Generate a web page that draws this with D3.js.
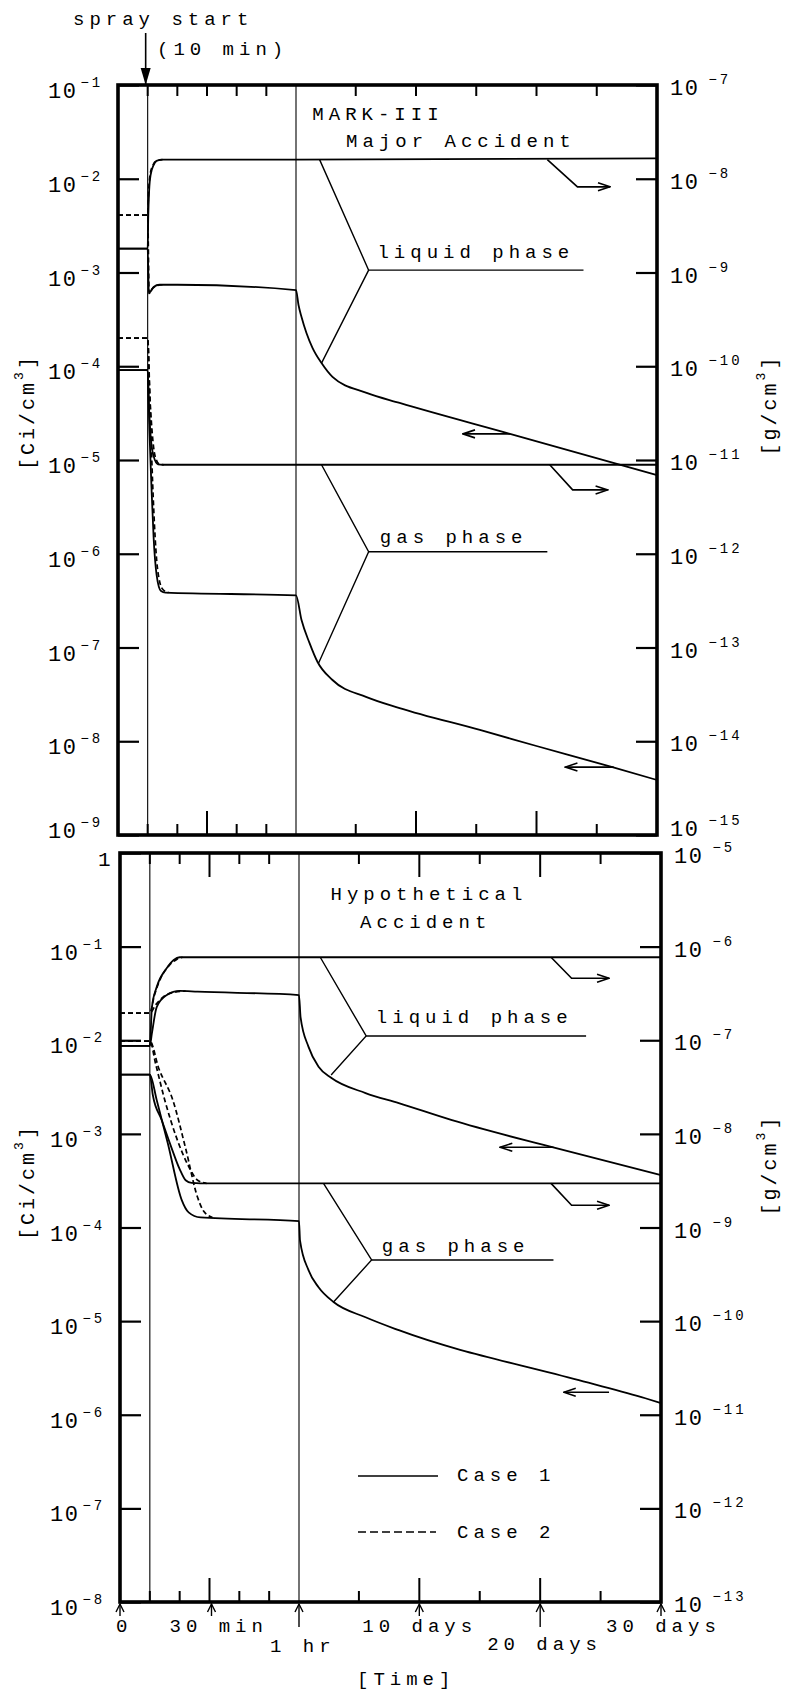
<!DOCTYPE html>
<html>
<head>
<meta charset="utf-8">
<script src="https://cdn.jsdelivr.net/npm/d3@7/dist/d3.min.js"></script>
<style>
  body { margin: 0; background: #fff; }
  svg text { font-family: "Liberation Mono", "DejaVu Sans Mono", monospace; fill: #000; }
</style>
</head>
<body>
<script>
const WIDTH = 787;
const HEIGHT = 1695;

// time is in minutes: 0-60 min is stretched, then days up to 30 (1 day = 1440 min)
const DAY = 1440;

const MIN_TICKS = [10, 20, 30, 40, 50];
const DAY_TICKS = [5, 10, 15, 20, 25];
const LONG_TICKS = [30, 14400, 28800];

const X_LABEL_TIMES = [0, 30, 60, 14400, 28800, 43200];
const X_LABEL_TEXT = ["0", "30 min", "1 hr", "10 days", "20 days", "30 days"];

const TOP_LEFT_TICKS = [1e-1, 1e-2, 1e-3, 1e-4, 1e-5, 1e-6, 1e-7, 1e-8, 1e-9];
const TOP_RIGHT_TICKS = [1e-7, 1e-8, 1e-9, 1e-10, 1e-11, 1e-12, 1e-13, 1e-14, 1e-15];
const BOT_LEFT_TICKS = [1, 1e-1, 1e-2, 1e-3, 1e-4, 1e-5, 1e-6, 1e-7, 1e-8];
const BOT_RIGHT_TICKS = [1e-5, 1e-6, 1e-7, 1e-8, 1e-9, 1e-10, 1e-11, 1e-12, 1e-13];

// ---- MARK-III major accident, [time min, value on left scale] ----
const M3_LIQ_MASS_1 = [[0,1.8e-3],[10,1.8e-3],[10.2,4e-3],[10.5,7.5e-3],[11,1.1e-2],[12,1.4e-2],[13,1.55e-2],[15,1.6e-2],[60,1.6e-2],[43200,1.65e-2]];
const M3_LIQ_MASS_2 = [[0,4.1e-3],[10,4.1e-3],[10.3,7e-3],[10.8,1.1e-2],[11.8,1.4e-2],[13,1.55e-2],[15,1.6e-2]];
const M3_LIQ_ACT_1 = [[0,1.8e-3],[10,1.8e-3],[10.4,6e-4],[11,6.3e-4],[12,7e-4],[14,7.4e-4],[20,7.4e-4],[60,6.5e-4],
  [360,4.5e-4],[720,3.35e-4],[1310,2.26e-4],[2030,1.57e-4],[3110,1.08e-4],[4420,7.7e-5],[8496,5.2e-5],[12442,4.06e-5],[25632,1.9e-5],[43200,6.9e-6]];
const M3_LIQ_ACT_2 = [[0,4.1e-3],[10,4.1e-3],[10.5,6e-4],[11.2,6.5e-4],[12.5,7.1e-4],[15,7.4e-4]];
const M3_GAS_MASS_1 = [[0,9.1e-5],[10,9.1e-5],[10.4,4e-5],[11,1.8e-5],[12,1.1e-5],[13.5,9e-6],[15,8.9e-6],[43200,8.9e-6]];
const M3_GAS_MASS_2 = [[0,2e-4],[10,2e-4],[10.6,6e-5],[11.5,2e-5],[12.5,1.1e-5],[14,9e-6],[15.5,8.9e-6]];
const M3_GAS_ACT_1 = [[0,9.1e-5],[10,9.1e-5],[10.6,2e-5],[11.3,5e-6],[12,1.5e-6],[13,6e-7],[14.5,4e-7],[16,3.85e-7],[60,3.6e-7],
  [720,1.96e-7],[1670,1.12e-7],[2635,7e-8],[4420,4.5e-8],[8496,2.96e-8],[12442,2.26e-8],[22032,1.32e-8],[28800,8.9e-9],[37872,5.3e-9],[43200,3.86e-9]];
const M3_GAS_ACT_2 = [[0,2e-4],[10,2e-4],[10.8,4e-5],[11.5,8e-6],[12.3,2e-6],[13.3,7e-7],[15,4.2e-7],[17,3.85e-7]];

// ---- hypothetical accident ----
const HY_LIQ_MASS_1 = [[0,8.7e-3],[10,8.7e-3],[10.7,2.26e-2],[12.3,3.7e-2],[15.7,5.9e-2],[18,7.2e-2],[20,7.7e-2],[43200,7.7e-2]];
const HY_LIQ_MASS_2 = [[0,1.95e-2],[10,1.95e-2],[11.5,3e-2],[13.5,4.5e-2],[16.5,6.3e-2],[19,7.3e-2],[21,7.7e-2]];
const HY_LIQ_ACT_1 = [[0,8.7e-3],[10,8.7e-3],[10.7,1.19e-2],[12.3,2.26e-2],[15.7,3.04e-2],[20,3.36e-2],[26,3.3e-2],[60,3.04e-2],
  [245,1.77e-2],[1195,8.5e-3],[2390,5.2e-3],[3931,3.95e-3],[7992,2.73e-3],[11952,2.13e-3],[18288,1.4e-3],[30240,7.2e-4],[43200,3.63e-4]];
const HY_LIQ_ACT_2 = [[0,1.95e-2],[10,1.95e-2],[12,2.4e-2],[14.5,2.9e-2],[18,3.25e-2],[22,3.35e-2]];
const HY_GAS_MASS_1 = [[0,4.3e-3],[10,4.3e-3],[11,2.6e-3],[14,1.4e-3],[17,7.5e-4],[20,4.2e-4],[22,3.2e-4],[24,3.0e-4],[30,2.96e-4],[43200,2.96e-4]];
const HY_GAS_MASS_2 = [[0,9.8e-3],[10,9.8e-3],[12,5.5e-3],[15,2.3e-3],[19,9e-4],[23,4.5e-4],[26,3.2e-4],[29,2.96e-4]];
const HY_GAS_ACT_1 = [[0,4.3e-3],[10,4.3e-3],[12.3,2.3e-3],[16,8e-4],[20.7,1.96e-4],[23,1.45e-4],[27,1.28e-4],[60,1.17e-4],
  [180,7.3e-5],[1195,3.5e-5],[2390,2.3e-5],[4176,1.6e-5],[7992,1.1e-5],[11952,8e-6],[33408,2.34e-6],[41328,1.5e-6],[43200,1.33e-6]];
const HY_GAS_ACT_2 = [[0,9.8e-3],[10,9.8e-3],[13,5e-3],[17.7,2.3e-3],[22,7e-4],[26,2.1e-4],[28,1.5e-4],[31,1.28e-4]];

// annotation anchors [time min, value on left scale]
const M3_LIQ_LEADER = [[2880,1.6e-2],[8740,1.06e-3],[3110,1.08e-4]];
const M3_GAS_LEADER = [[3110,8.9e-6],[8740,1.05e-6],[2750,6.8e-8]];
const M3_LEADER_END = [34416, 30096];
const M3_TEXT = [["MARK-III",2016,4.2e-2],["Major Accident",6048,2.18e-2],["liquid phase",9792,1.43e-3],["gas phase",10080,1.3e-6]];
const M3_ARROWS = [
  [[30096,1.6e-2],[33696,8.2e-3],[37584,8.2e-3]],
  [[30384,8.9e-6],[33120,4.8e-6],[37296,4.8e-6]],
  [[25632,1.9e-5],[20016,1.9e-5]],
  [[38016,5.3e-9],[32256,5.3e-9]]
];
const HY_LIQ_LEADER = [[2592,7.7e-2],[8064,1.11e-2],[3888,4.25e-3]];
const HY_GAS_LEADER = [[2981,2.96e-4],[8712,4.5e-5],[4176,1.6e-5]];
const HY_LEADER_END = [34272, 30384];
const HY_TEXT = [["Hypothetical",3816,0.315],["Accident",7344,0.158],["liquid phase",9216,1.53e-2],["gas phase",9936,5.5e-5]];
const HY_ARROWS = [
  [[30096,7.7e-2],[32544,4.6e-2],[37008,4.6e-2]],
  [[30384,7.2e-4],[24048,7.2e-4]],
  [[30096,2.96e-4],[32544,1.73e-4],[37008,1.73e-4]],
  [[37008,1.74e-6],[31608,1.74e-6]]
];

const PANELS = [
  {box: {left: 118, right: 657, top: 85, bottom: 835, hour: 296},
   yDomain: [1e-1, 1e-9], y2Domain: [1e-7, 1e-15], yTicks: TOP_LEFT_TICKS, y2Ticks: TOP_RIGHT_TICKS,
   solid: [M3_LIQ_MASS_1, M3_LIQ_ACT_1, M3_GAS_MASS_1, M3_GAS_ACT_1],
   dashed: [M3_LIQ_MASS_2, M3_LIQ_ACT_2, M3_GAS_MASS_2, M3_GAS_ACT_2],
   leaders: [M3_LIQ_LEADER, M3_GAS_LEADER], leaderEnd: M3_LEADER_END, texts: M3_TEXT, arrows: M3_ARROWS,
   topLong: false, last: true},
  {box: {left: 120, right: 661, top: 853, bottom: 1602, hour: 299},
   yDomain: [1, 1e-8], y2Domain: [1e-5, 1e-13], yTicks: BOT_LEFT_TICKS, y2Ticks: BOT_RIGHT_TICKS,
   solid: [HY_LIQ_MASS_1, HY_LIQ_ACT_1, HY_GAS_MASS_1, HY_GAS_ACT_1],
   dashed: [HY_LIQ_MASS_2, HY_LIQ_ACT_2, HY_GAS_MASS_2, HY_GAS_ACT_2],
   leaders: [HY_LIQ_LEADER, HY_GAS_LEADER], leaderEnd: HY_LEADER_END, texts: HY_TEXT, arrows: HY_ARROWS,
   topLong: true, last: false}
];

const svg = d3.select("body").append("svg")
  .attr("width", WIDTH).attr("height", HEIGHT)
  .style("background", "#fff");

const defs = svg.append("defs");
defs.append("marker").attr("id", "head")
  .attr("viewBox", "0 0 14 10").attr("refX", 13).attr("refY", 5)
  .attr("markerWidth", 14).attr("markerHeight", 10)
  .attr("markerUnits", "userSpaceOnUse").attr("orient", "auto")
  .append("path").attr("d", "M1,1 L13,5 L1,9")
  .attr("fill", "none").attr("stroke", "#000").attr("stroke-width", 1.6);

const label = (sel, size) => sel.attr("font-size", size || 19).attr("letter-spacing", 5);

// "10" with raised negative exponent
const powText = (sel, v, gap) => {
  const e = Math.round(Math.log10(v));
  if (e === 0) { sel.attr("font-size", 21).text("1"); return; }
  sel.append("tspan").attr("font-size", 22).attr("letter-spacing", 1.5).text("10");
  sel.append("tspan").attr("font-size", 14).attr("dx", gap).attr("dy", -11)
     .attr("letter-spacing", 3).text("\u2212" + (-e));
};

const drawPanel = (p) => {
  const b = p.box;
  const g = svg.append("g");
  const x = d3.scaleLinear().domain([0, 60, 30 * DAY]).range([b.left, b.hour, b.right]);
  const y = d3.scaleLog().domain(p.yDomain).range([b.top, b.bottom]);
  const y2 = d3.scaleLog().domain(p.y2Domain).range([b.top, b.bottom]);

  // thin guides at spray start and at 1 hr
  g.selectAll(".guide").data([10, 60]).enter().append("line")
    .attr("x1", d => x(d)).attr("x2", d => x(d))
    .attr("y1", b.top).attr("y2", b.bottom)
    .attr("stroke", "#000").attr("stroke-width", 1.1);

  // value axes, ticks pointing inward
  const yAxis = g.append("g").attr("transform", "translate(" + b.left + ",0)")
    .call(d3.axisLeft(y).tickValues(p.yTicks).tickSize(-21).tickFormat(""));
  const y2Axis = g.append("g").attr("transform", "translate(" + b.right + ",0)")
    .call(d3.axisRight(y2).tickValues(p.y2Ticks).tickSize(-21).tickFormat(""));
  [yAxis, y2Axis].forEach(a => {
    a.select(".domain").remove();
    a.selectAll("line").attr("stroke-width", 2.2);
  });

  // time ticks on both edges
  const allTicks = MIN_TICKS.concat(DAY_TICKS.map(d => d * DAY));
  const tickLen = (d, edge) => LONG_TICKS.includes(d) && (edge === "bottom" || p.topLong) ? 24 : 11;
  ["top", "bottom"].forEach(edge => {
    const yy = edge === "top" ? b.top : b.bottom;
    const dir = edge === "top" ? 1 : -1;
    g.selectAll(".xt-" + edge).data(allTicks).enter().append("line")
      .attr("x1", d => x(d)).attr("x2", d => x(d))
      .attr("y1", yy).attr("y2", d => yy + dir * tickLen(d, edge))
      .attr("stroke", "#000").attr("stroke-width", 2);
  });

  // tick labels
  g.selectAll(".ylab").data(p.yTicks).enter().append("text")
    .attr("x", d => Math.round(Math.log10(d)) === 0 ? b.left - 22 : b.left - 70)
    .attr("y", d => y(d) + (p.last && d === p.yTicks[p.yTicks.length - 1] ? 3 : 13))
    .each(function (d) { powText(d3.select(this), d, 3); });
  g.selectAll(".y2lab").data(p.y2Ticks).enter().append("text")
    .attr("x", b.right + 13)
    .attr("y", d => y2(d) + (p.last && d === p.y2Ticks[p.y2Ticks.length - 1] ? 1 : 10))
    .each(function (d) { powText(d3.select(this), d, 9); });

  // curves
  const line = d3.line().x(d => x(d[0])).y(d => y(d[1])).curve(d3.curveMonotoneX);
  g.selectAll(".case2").data(p.dashed).enter().append("path")
    .attr("d", line).attr("fill", "none").attr("stroke", "#000")
    .attr("stroke-width", 1.7).attr("stroke-dasharray", "5,3");
  g.selectAll(".case1").data(p.solid).enter().append("path")
    .attr("d", line).attr("fill", "none").attr("stroke", "#000")
    .attr("stroke-width", 1.8);

  // phase leaders
  const straight = d3.line().x(d => x(d[0])).y(d => y(d[1]));
  p.leaders.forEach((l, i) => {
    g.append("path").attr("d", straight(l)).attr("fill", "none")
      .attr("stroke", "#000").attr("stroke-width", 1.4);
    g.append("line")
      .attr("x1", x(l[1][0])).attr("x2", x(p.leaderEnd[i]))
      .attr("y1", y(l[1][1])).attr("y2", y(l[1][1]))
      .attr("stroke", "#000").attr("stroke-width", 1.4);
  });

  // axis-reference arrows
  p.arrows.forEach(a => {
    g.append("path").attr("d", straight(a)).attr("fill", "none")
      .attr("stroke", "#000").attr("stroke-width", 1.6)
      .attr("marker-end", "url(#head)");
  });

  g.selectAll(".note").data(p.texts).enter().append("text")
    .attr("x", d => x(d[1])).attr("y", d => y(d[2]))
    .call(label).text(d => d[0]);

  // frame
  g.append("rect")
    .attr("x", b.left).attr("y", b.top)
    .attr("width", b.right - b.left).attr("height", b.bottom - b.top)
    .attr("fill", "none").attr("stroke", "#000").attr("stroke-width", 3.6);

  return {x, y};
};

const [topP, botP] = PANELS.map(drawPanel);

// spray start marker
const sx = topP.x(10);
svg.append("text").attr("x", 73).attr("y", 25).call(label).text("spray start");
svg.append("text").attr("x", 157).attr("y", 55).call(label).text("(10 min)");
svg.append("line").attr("x1", sx - 2).attr("x2", sx - 2).attr("y1", 33).attr("y2", 84)
  .attr("stroke", "#000").attr("stroke-width", 1.6);
svg.append("path")
  .attr("d", "M" + (sx - 7) + ",68 L" + (sx - 2) + ",85 L" + (sx + 3) + ",68 Z")
  .attr("fill", "#000");

// unit labels
const unitLabel = (cx, cy, main) => {
  const t = svg.append("text")
    .attr("transform", "translate(" + cx + "," + cy + ") rotate(-90)")
    .attr("text-anchor", "middle").attr("dominant-baseline", "central")
    .attr("font-size", 20).attr("letter-spacing", 3);
  t.append("tspan").text(main);
  t.append("tspan").attr("font-size", 13).attr("dy", -9).text("3");
  t.append("tspan").attr("dy", 9).text("]");
};
unitLabel(28, 412, "[Ci/cm");
unitLabel(28, 1182, "[Ci/cm");
unitLabel(770, 405, "[g/cm");
unitLabel(770, 1165, "[g/cm");

// time labels below the lower panel
const bb = PANELS[1].box;
const X_LABEL_DX = [-4, -42, -29, -57, -53, -55];
const X_LABEL_ROW = [1632, 1632, 1652, 1632, 1650, 1632];
const X_ARROW_LEN = [14, 14, 25, 14, 25, 14];
X_LABEL_TIMES.forEach((t, i) => {
  const xx = botP.x(t) + (i === 1 ? 2 : 0);
  svg.append("line").attr("x1", xx).attr("x2", xx)
    .attr("y1", bb.bottom + 2).attr("y2", bb.bottom + X_ARROW_LEN[i])
    .attr("stroke", "#000").attr("stroke-width", 1.4);
  svg.append("path")
    .attr("d", "M" + (xx - 4) + "," + (bb.bottom + 10) + " L" + xx + "," + (bb.bottom + 2) + " L" + (xx + 4) + "," + (bb.bottom + 10))
    .attr("fill", "none").attr("stroke", "#000").attr("stroke-width", 1.4);
  svg.append("text").attr("x", xx + X_LABEL_DX[i]).attr("y", X_LABEL_ROW[i])
    .call(label).text(X_LABEL_TEXT[i]);
});
svg.append("text").attr("x", 357).attr("y", 1685).call(label).text("[Time]");

// legend
const legend = svg.append("g").attr("transform", "translate(358,0)");
legend.append("line").attr("x1", 0).attr("x2", 80).attr("y1", 1476).attr("y2", 1476)
  .attr("stroke", "#000").attr("stroke-width", 1.6);
legend.append("line").attr("x1", 0).attr("x2", 78).attr("y1", 1532).attr("y2", 1532)
  .attr("stroke", "#000").attr("stroke-width", 1.6).attr("stroke-dasharray", "8,4");
legend.append("text").attr("x", 99).attr("y", 1481).call(label).text("Case 1");
legend.append("text").attr("x", 99).attr("y", 1538).call(label).text("Case 2");
</script>
</body>
</html>
